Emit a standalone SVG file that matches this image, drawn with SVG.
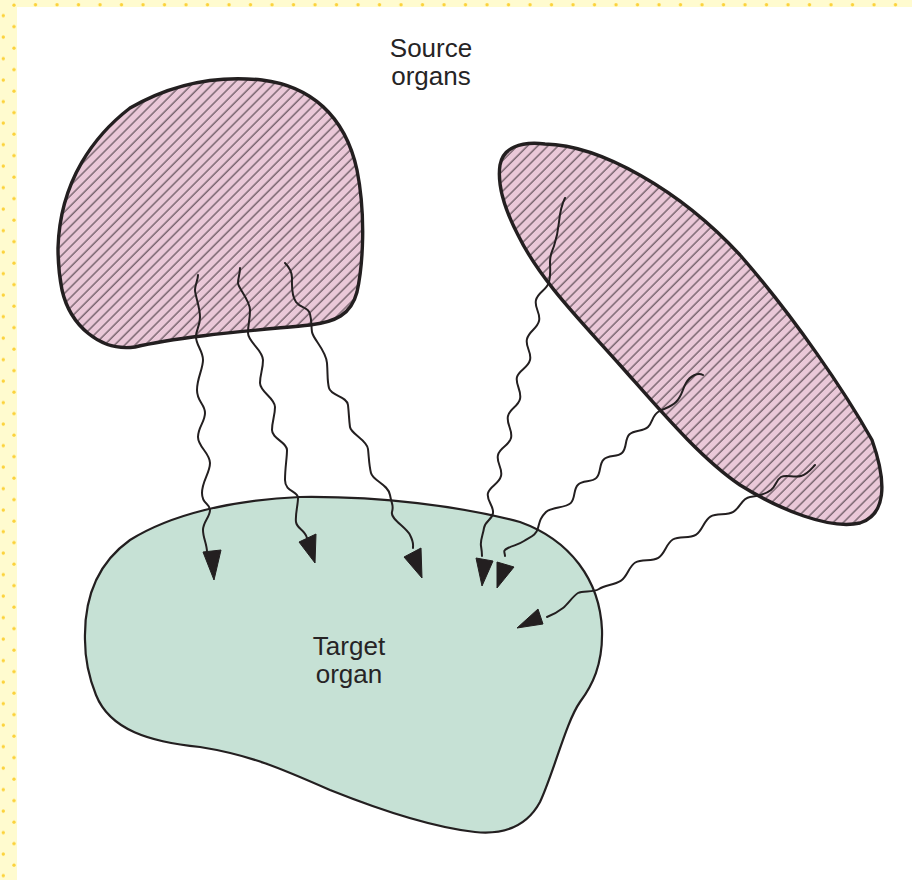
<svg xmlns="http://www.w3.org/2000/svg" width="912" height="880" viewBox="0 0 912 880">
<defs>
<style>
.band{fill:#fffbcf}
.src{fill:url(#hatch);stroke:#231f20;stroke-width:3.4;stroke-linejoin:round}
.tgt{fill:#c6e1d5;stroke:#231f20;stroke-width:2.2}
.wave{fill:none;stroke:#231f20;stroke-width:2;stroke-linecap:round;stroke-linejoin:round}
.head{fill:#231f20;stroke:#231f20;stroke-width:1;stroke-linejoin:round}
.lbl{font-family:"Liberation Sans",Arial,sans-serif;font-size:26px;fill:#262425;text-anchor:middle}
</style>
<pattern id="hatch" patternUnits="userSpaceOnUse" width="7.2" height="7.2" patternTransform="rotate(45)">
<rect width="7.2" height="7.2" fill="#eac8d8"/>
<line x1="1" y1="0" x2="1" y2="7.2" stroke="#4a3d44" stroke-width="1.05"/>
</pattern>
<pattern id="dotsTop" patternUnits="userSpaceOnUse" width="21.5" height="7" x="0" y="0">
<circle cx="14" cy="4.8" r="1.7" fill="#fcd23a"/>
</pattern>
<pattern id="dotsLeft" patternUnits="userSpaceOnUse" width="17" height="21.5" x="0" y="0">
<circle cx="3.3" cy="15.7" r="1.7" fill="#fcd23a"/>
<circle cx="14" cy="5.2" r="1.7" fill="#fcd23a"/>
</pattern>
</defs>
<rect width="912" height="880" fill="#ffffff"/>
<g id="border">
<rect class="band" x="0" y="0" width="912" height="7"/>
<rect class="band" x="0" y="0" width="17" height="880"/>
<rect x="17" y="0" width="895" height="7" fill="url(#dotsTop)"/>
<rect x="0" y="0" width="17" height="880" fill="url(#dotsLeft)"/>
</g>
<g id="target-organ">
<path class="tgt" d="M85,640 C84,600 95,565 130,540 C170,515 230,500 300,497 C380,496 460,506 520,522 C570,540 600,580 602,630 C603,665 592,686 580,702 C566,722 554,772 540,802 C527,826 505,835 475,832 C430,827 380,810 330,790 C280,768 250,755 200,747 C150,742 110,730 96,695 C88,675 85,660 85,640 Z"/>
<text class="lbl" x="349" y="655">Target</text>
<text class="lbl" x="349" y="683">organ</text>
</g>
<g id="source-organ-1">
<path class="src" d="M58,248 C60,180 95,135 130,108 C170,85 215,75 262,80 C310,86 345,115 357,170 C366,215 363,265 357,292 C351,315 335,322 310,325 C260,330 180,336 135,347 C100,352 70,325 62,290 C59,275 58,260 58,248 Z"/>
</g>
<g id="source-organ-2">
<path class="src" d="M500,165 C503,148 520,141 545,144 C600,145 680,190 740,255 C795,318 845,392 872,440 C888,485 885,515 860,523 C830,530 780,510 740,485 C700,458 660,410 620,365 C580,320 540,280 518,235 C505,210 497,185 500,165 Z"/>
</g>
<g id="label-source">
<text class="lbl" x="431" y="57">Source</text>
<text class="lbl" x="431" y="85">organs</text>
</g>
<g id="connectors">
<path class="wave" d="M198,275 C198,280 195,285 195,290 S200,307 200,317 S196,329 196,337 S203,351 203,360 S197,378 197,390 S205,404 205,413 S198,427 198,437 S210,453 210,463 S202,481 202,493 S210,503 210,510 S203,522 203,530 S207,544 207,552"/>
<polygon class="head" points="203,552 221,550 214,580"/>
<path class="wave" d="M240,268 C240,274 238,278 238,283 S250,300 250,310 S248,324 248,333 S263,350 263,360 S260,374 260,383 S275,398 275,407 S272,421 272,430 S287,442 287,450 S285,468 285,480 S298,491 298,498 S295,515 296,522 S305,530 307,538"/>
<polygon class="head" points="299,542 316,534 315,563"/>
<path class="wave" d="M285,263 C289,267 292,271 292,278 S291,295 296,302 S308,306 310,314 S311,325 312,332 S326,350 327,363 S327,380 329,388 S347,396 348,405 S349,420 350,427 S367,440 368,449 S369,465 371,473 S388,484 390,495 S394,505 392,512 S406,527 410,535 S413,543 413,548"/>
<polygon class="head" points="404,557 421,548 422,578"/>
<path class="wave" d="M565,198 C562,204 560,212 559,222 S556,240 554,246 S550,254 550,262 S551,274 549,282 S538,292 536,300 S541,313 539,321 S529,331 527,339 S532,352 530,360 S519,370 517,377 S522,391 520,399 S510,408 508,416 S513,430 511,438 S500,447 498,455 S503,468 501,476 S490,486 488,493 S494,506 493,513 S485,521 484,528 S480,540 481,546 S482,552 482,556"/>
<polygon class="head" points="476,558 493,561 482,586"/>
<path class="wave" d="M703,375 C698,372 690,376 686,383 S682,396 676,402 S664,408 658,412 S653,422 648,427 S634.5,429.4 629.5,434.3 S627.2,447.8 622.2,452.7 S608.7,454.6 603.7,459.5 S601.4,473 596.4,477.9 S583,479.8 578,484.7 S575.7,498.2 570.7,503.1 S551,507 546,512 S540,520 538,528 S530,537 524,541 S514,545 508,548 S505,552 505,556"/>
<polygon class="head" points="497,562 514,567 497,588"/>
<path class="wave" d="M815,465 C812,468 808,474 801,476 S786,474 781,477 S776,486 771,490 S758,496 750,497 S740.1,507.7 733.3,511.9 S717.2,512.4 710.4,516.6 S702.6,530.7 695.8,534.9 S679.6,535.3 672.8,539.5 S665.1,553.6 658.3,557.8 S642.1,558.3 635.3,562.5 S627.5,576.6 620.7,580.8 S605,585 599,589 S583,590 578,593 S568,604 563,608 S552,615 547,617"/>
<polygon class="head" points="538,609 543,624 517,628"/>
</g>
</svg>
